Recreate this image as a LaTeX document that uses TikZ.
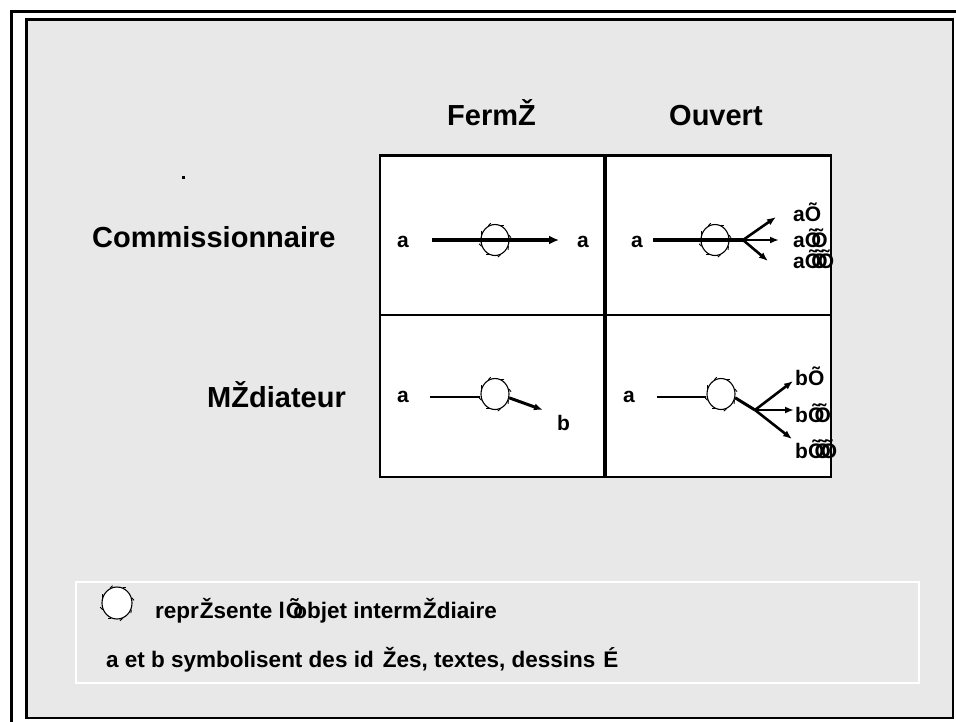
\documentclass[tikz,border=0pt]{standalone}
\usepackage{fontspec}
\setmainfont{Liberation Sans}
\usetikzlibrary{arrows.meta,shapes.geometric}
\definecolor{panelgray}{RGB}{232,232,232}
\newcommand\otwice{Õ\kern-0.47emÕ}
\newcommand\othrice{Õ\kern-0.47emÕ\kern-0.47emÕ}
\newcommand\blobticks[1]{%
  \foreach \ang in {20,70,115,160,205,250,290,335}{%
    \draw[line width=0.9pt] (#1.\ang) -- ++(\ang-70:3.5pt);}}
\tikzset{
  hdr/.style={font=\fontsize{29}{32}\selectfont\bfseries, inner sep=0pt},
  lbl/.style={font=\fontsize{21}{24}\selectfont\bfseries, inner sep=0pt},
  leg/.style={font=\fontsize{22.5}{25}\selectfont\bfseries, inner sep=0pt},
  blob/.style={draw, ellipse, line width=1.1pt, minimum width=28pt, minimum height=31pt, inner sep=0pt},
  thickline/.style={line width=3.6pt},
  thinline/.style={line width=1.6pt},
  branch/.style={line width=2.6pt, -{Latex[length=9pt,width=7pt]}},
}
\begin{document}
\begin{tikzpicture}[x=1pt,y=-1pt]
\useasboundingbox (0,0) rectangle (956,721);
\fill[white] (0,0) rectangle (956,721);
% outer frame (cut by the page)
\draw[line width=3pt] (11.5,11.5) rectangle (970,740);
% grey panel
\fill[panelgray] (26,19) rectangle (953,718);
\draw[line width=1.5pt] (26,19) rectangle (953,718);
\draw[line width=3pt] (26,718) -- (26,19) -- (953,19);
% table
\fill[white] (380,155) rectangle (831,477);
\draw[line width=1.6pt] (380,155) rectangle (831,477);
\draw[line width=3pt] (380,155) -- (831,155);
\draw[line width=1.6pt] (380,315) -- (831,315);
\draw[line width=3.2pt] (605,155) -- (605,477);
% headers
\node[hdr, anchor=base west] (hf) at (447,125) {FermŽ};
\node[hdr, anchor=base west] (ho) at (669,125) {Ouvert};
\node[hdr, anchor=base west] (rc) at (92,247) {Commissionnaire};
\node[hdr, anchor=base east] (rm) at (346,407) {MŽdiateur};
\fill (182,176) rectangle (185,179);
% cell top-left
\node[lbl, anchor=base west] (tla) at (397,247) {a};
\node[lbl, anchor=base west] (tlb) at (577,247) {a};
\node[blob] (tlc) at (495,240) {};
\blobticks{tlc}
\coordinate (tlS) at (432,240);
\coordinate (tlE) at (559,240);
\draw[thickline, -{Latex[length=10pt,width=9pt]}] (tlS) -- (tlE);
% cell top-right
\node[lbl, anchor=base west] (tra) at (631,247) {a};
\node[blob] (trc) at (715,240) {};
\blobticks{trc}
\coordinate (trS) at (653,240);
\coordinate (trB) at (743,240);
\coordinate (trU) at (776,217);
\coordinate (trM) at (779,240);
\coordinate (trD) at (768,261);
\draw[thickline] (trS) -- (trB);
\draw[branch] (trB) -- (trU);
\draw[branch] (trB) -- (trM);
\draw[branch] (trB) -- (trD);
\node[lbl, anchor=base west] (tr1) at (793,221) {aÕ};
\node[lbl, anchor=base west] (tr2) at (793,247) {a\otwice};
\node[lbl, anchor=base west] (tr3) at (793,268) {a\othrice};
% cell bottom-left
\node[lbl, anchor=base west] (bla) at (397,402) {a};
\node[lbl, anchor=base west] (blb) at (557,430) {b};
\node[blob, fill=white] (blc) at (495,394) {};
\blobticks{blc}
\coordinate (blS) at (430,397);
\coordinate (blE) at (543,410);
\draw[thinline] (blS) -- (blc.west |- blS);
\draw[branch, line width=3pt] (blc.-15) -- (blE);
% cell bottom-right
\node[lbl, anchor=base west] (bra) at (623,402) {a};
\node[blob, fill=white] (brc) at (721,394) {};
\blobticks{brc}
\coordinate (brS) at (657,397);
\coordinate (brB) at (755,410);
\coordinate (brU) at (793,381);
\coordinate (brM) at (794,410);
\coordinate (brD) at (792,439);
\draw[thinline] (brS) -- (brc.west |- brS);
\draw[line width=3pt] (brc.-15) -- (brB);
\draw[branch] (brB) -- (brU);
\draw[branch] (brB) -- (brM);
\draw[branch] (brB) -- (brD);
\node[lbl, anchor=base west] (br1) at (795,385) {bÕ};
\node[lbl, anchor=base west] (br2) at (795,422) {b\otwice};
\node[lbl, anchor=base west] (br3) at (795,458) {b\othrice};
% legend
\draw[white, line width=2.5pt] (76,582) rectangle (919,683);
\node[blob, fill=white, minimum width=30pt, minimum height=32pt] (lgc) at (117,603) {};
\blobticks{lgc}
\node[leg, anchor=base west] (lg1) at (155,618) {repr\kern1ptŽsente l\kern1ptÕ\kern-0.45emobjet interm\kern1ptŽdiaire};
\node[leg, anchor=base west] (lg2) at (106,667) {a et b symbolisent des id\kern9ptŽes, textes, dessins\kern8ptÉ};
\end{tikzpicture}
\end{document}
